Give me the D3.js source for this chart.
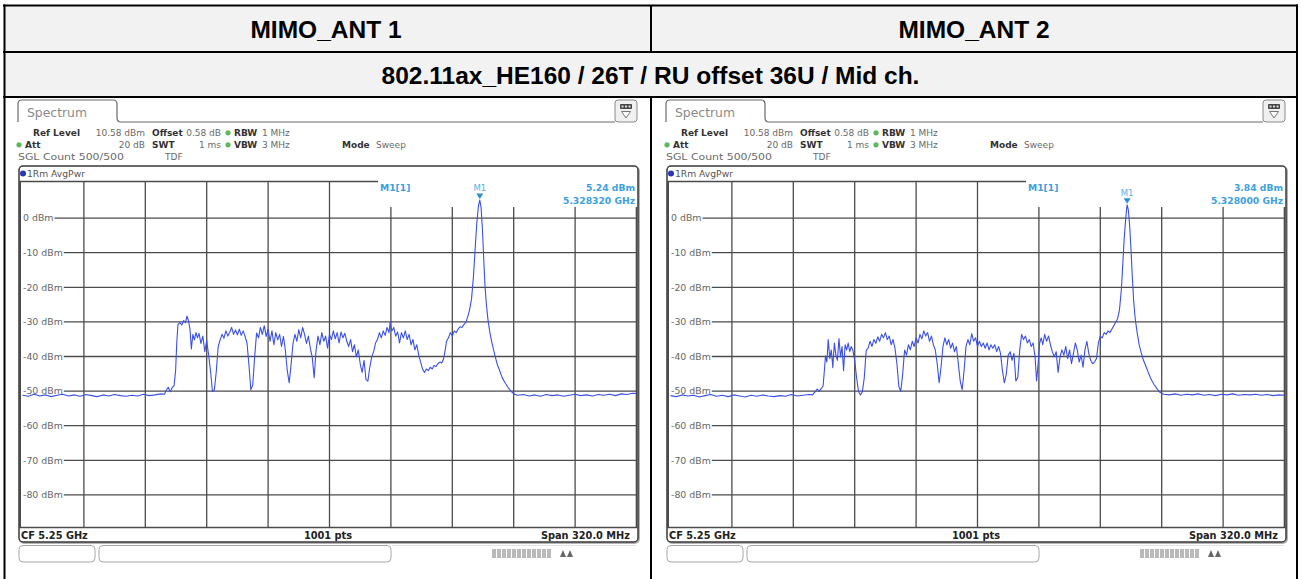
<!DOCTYPE html>
<html><head><meta charset="utf-8">
<script src="https://cdn.jsdelivr.net/npm/d3@7"></script>
<style>body{margin:0;background:#fff}svg{display:block}</style>
</head><body><svg id="c" width="1301" height="579"></svg>
<script>
// ---------------- data ----------------
const columnTitles = ["MIMO_ANT 1", "MIMO_ANT 2"];
const rowTitle = "802.11ax_HE160 / 26T / RU offset 36U / Mid ch.";
const yTickValues = [0, -10, -20, -30, -40, -50, -60, -70, -80];
const refLevel = 10.58;          // dBm, top of grid
const levelRange = 100;          // dB over 10 divisions
const startMHz = 5090, stopMHz = 5410;   // CF 5.25 GHz, span 320 MHz
const headerRow1 = [["Ref Level", "10.58 dBm"], ["Offset", "0.58 dB"], ["RBW", "1 MHz"]];
const headerRow2 = [["Att", "20 dB"], ["SWT", "1 ms"], ["VBW", "3 MHz"], ["Mode", "Sweep"]];
const headerRow3 = ["SGL Count 500/500", "TDF"];
const footerTexts = ["CF 5.25 GHz", "1001 pts", "Span 320.0 MHz"];
const markerFreqMHz = [5328.32, 5328.0];
const markerLevel = [5.24, 3.84];
const markerFreqLabel = ["5.328320 GHz", "5.328000 GHz"];
const markerLevelLabel = ["5.24 dBm", "3.84 dBm"];

// trace 1 (MIMO_ANT 1): [MHz, dBm]
const ant1Trace = [[5090,-51.2],[5093,-51.5],[5096,-50.9],[5099,-51.4],[5102,-51.1],[5105,-51.6],[5108,-51.2],[5111,-50.9],[5114,-51.4],[5117,-51.1],[5120,-51.5],[5123,-51.0],[5126,-51.3],[5129,-51.6],[5132,-51.1],[5135,-51.4],[5138,-51.0],[5141,-51.3],[5144,-51.5],[5147,-51.2],[5150,-51.4],[5153,-50.9],[5156,-51.3],[5159,-51.1],[5162,-50.8],[5164,-50.9],[5165,-49.6],[5166,-48.9],[5167,-50.2],[5168,-49.0],[5169,-48.4],[5169.8,-44],[5170.4,-36],[5171,-30.8],[5172,-30.2],[5173,-30.9],[5174,-29.6],[5175,-30.2],[5175.7,-28.3],[5176.5,-29.6],[5177.3,-32.2],[5178,-37.8],[5178.8,-33.6],[5179.6,-35.2],[5180.4,-33.1],[5181.2,-34.6],[5182,-33.3],[5183,-36.2],[5184,-34.1],[5185,-38.6],[5186,-35.4],[5187,-39.6],[5188,-44.2],[5189,-50.1],[5190,-49.6],[5191,-44.3],[5192,-37.1],[5193,-35.2],[5194,-33.6],[5195,-34.7],[5196,-32.6],[5197,-34.1],[5198,-33.0],[5199,-31.6],[5200,-33.6],[5201,-32.3],[5202,-33.7],[5203,-32.1],[5204,-33.9],[5205,-32.6],[5206,-34.2],[5207,-36.1],[5208,-42.3],[5209,-49.6],[5210,-48.2],[5211,-40.1],[5212,-33.2],[5213,-34.6],[5214,-31.6],[5215,-33.6],[5216,-31.1],[5217,-34.2],[5218,-32.1],[5219,-35.6],[5220,-32.6],[5221,-36.6],[5222,-33.1],[5223,-35.2],[5224,-33.6],[5225,-37.1],[5226,-34.2],[5227,-38.2],[5228,-44.1],[5229,-47.6],[5230,-42.2],[5231,-36.1],[5232,-33.6],[5233,-35.6],[5234,-32.2],[5235,-34.6],[5236,-31.6],[5237,-33.6],[5238,-36.2],[5239,-34.1],[5240,-37.6],[5241,-40.2],[5242,-46.1],[5243,-38.2],[5244,-34.1],[5245,-36.6],[5246,-33.1],[5247,-35.6],[5248,-34.1],[5249,-37.6],[5250,-33.6],[5251,-35.1],[5252,-32.6],[5253,-34.9],[5254,-33.1],[5255,-36.1],[5256,-32.9],[5257,-34.6],[5258,-33.3],[5259,-35.6],[5260,-37.1],[5261,-35.1],[5262,-38.6],[5263,-36.6],[5264,-40.1],[5265,-38.1],[5266,-42.1],[5267,-44.6],[5268,-41.1],[5269,-46.6],[5270,-47.1],[5271,-43.1],[5272,-40.1],[5273,-38.6],[5274,-36.1],[5275,-35.1],[5276,-33.1],[5277,-34.6],[5278,-32.6],[5279,-33.9],[5280,-31.6],[5281,-33.1],[5281.6,-30.1],[5282.5,-32.6],[5283.5,-31.6],[5284.5,-34.1],[5285.5,-32.9],[5286.5,-36.1],[5287.5,-33.1],[5288.5,-34.6],[5289.5,-32.6],[5290.5,-35.1],[5291.5,-33.6],[5292.5,-36.6],[5293.5,-35.1],[5294.5,-38.1],[5295.5,-36.6],[5296.5,-39.6],[5297.5,-41.6],[5298.5,-43.6],[5299.5,-44.6],[5300.5,-43.6],[5301.5,-44.1],[5302.5,-43.1],[5303.5,-43.6],[5304.5,-42.6],[5305.5,-42.9],[5306.5,-42.1],[5307.5,-41.6],[5308.5,-41.9],[5309.5,-40.6],[5310.3,-38.1],[5311,-35.6],[5312,-34.6],[5313,-33.1],[5314,-34.1],[5315,-32.6],[5316,-33.1],[5317,-32.1],[5318,-31.4],[5319,-31.6],[5320,-30.8],[5321,-30.2],[5322,-28.6],[5323,-26.5],[5324,-23.5],[5325,-17.0],[5326,-8.1],[5326.8,-1.2],[5327.6,3.4],[5328.32,5.24],[5329,3.1],[5329.7,-3.2],[5330.4,-12.1],[5331.1,-20.2],[5331.8,-25.1],[5332.6,-29.4],[5333.5,-32.8],[5334.5,-35.6],[5335.5,-38.1],[5336.5,-40.3],[5337.5,-42.4],[5338.7,-44.1],[5340,-46.1],[5341.5,-47.6],[5343,-48.9],[5344.5,-50.0],[5346,-50.8],[5348,-51.2],[5351,-51.0],[5354,-51.4],[5357,-51.1],[5360,-51.5],[5363,-51.0],[5366,-51.3],[5369,-51.1],[5372,-51.5],[5375,-51.2],[5378,-50.9],[5381,-51.3],[5384,-51.1],[5387,-51.4],[5390,-51.0],[5393,-51.2],[5396,-50.9],[5399,-51.3],[5402,-50.8],[5405,-51.0],[5408,-50.6],[5410,-50.7]];

// trace 2 (MIMO_ANT 2): [MHz, dBm]
const ant2Trace = [[5090,-51.3],[5093,-51.6],[5096,-51.1],[5099,-51.4],[5102,-51.2],[5105,-51.7],[5108,-51.3],[5111,-51.0],[5114,-51.5],[5117,-51.2],[5120,-51.6],[5123,-51.1],[5126,-51.4],[5129,-51.7],[5132,-51.2],[5135,-51.5],[5138,-51.1],[5141,-51.4],[5144,-51.6],[5147,-51.3],[5150,-51.5],[5153,-51.0],[5156,-51.4],[5159,-51.2],[5162,-51.0],[5164,-51.1],[5165.3,-50.2],[5166.5,-49.4],[5167.5,-50.1],[5168.5,-49.3],[5169.5,-48.6],[5170.2,-44],[5170.8,-39.8],[5171.5,-41.6],[5172.2,-35.1],[5173,-40.6],[5173.8,-38.1],[5174.6,-43.2],[5175.4,-36.1],[5176.2,-39.6],[5177,-41.1],[5177.8,-34.8],[5178.6,-40.1],[5179.4,-37.1],[5180.2,-44.1],[5181,-36.6],[5181.8,-38.1],[5182.6,-36.1],[5183.4,-38.6],[5184.2,-37.1],[5185,-38.1],[5186,-41.1],[5187,-46.2],[5188,-50.1],[5189,-51.1],[5190,-50.2],[5191,-46.1],[5192,-38.2],[5193,-37.6],[5194,-35.6],[5195,-37.1],[5196,-35.1],[5197,-36.2],[5198,-34.3],[5199,-35.6],[5200,-33.6],[5201,-34.6],[5202,-33.1],[5203,-35.1],[5204,-34.1],[5205,-36.6],[5206,-35.1],[5207,-37.6],[5208,-42.1],[5209,-48.6],[5210,-50.1],[5211,-45.1],[5212,-38.1],[5213,-39.6],[5214,-36.6],[5215,-38.1],[5216,-35.6],[5217,-37.1],[5218,-34.6],[5219,-36.1],[5220,-33.6],[5221,-34.9],[5222,-32.6],[5223,-34.1],[5224,-33.1],[5225,-35.6],[5226,-34.1],[5227,-36.6],[5228,-38.1],[5229,-42.1],[5230,-47.6],[5231,-43.1],[5232,-37.1],[5233,-34.6],[5234,-36.6],[5235,-35.1],[5236,-37.6],[5237,-36.1],[5238,-38.6],[5239,-37.1],[5240,-42.1],[5241,-47.1],[5242,-49.6],[5243,-44.1],[5244,-37.1],[5245,-35.1],[5246,-36.6],[5247,-33.4],[5248,-35.6],[5249,-34.6],[5250,-37.1],[5251,-35.6],[5252,-37.1],[5253,-36.1],[5254,-37.6],[5255,-36.1],[5256,-38.1],[5257,-36.6],[5258,-37.6],[5259,-36.6],[5260,-38.6],[5261,-37.1],[5262,-39.1],[5263,-44.1],[5264,-47.6],[5265,-45.1],[5266,-39.6],[5267,-38.6],[5268,-41.1],[5269,-39.1],[5270,-47.1],[5271,-46.1],[5272,-38.1],[5273,-33.6],[5274,-35.1],[5275,-34.1],[5276,-36.1],[5277,-35.1],[5278,-37.1],[5279,-36.1],[5280,-40.1],[5280.8,-47.1],[5281.6,-42.1],[5282.4,-36.1],[5283.2,-34.6],[5284,-36.6],[5285,-33.6],[5286,-35.6],[5287,-34.1],[5288,-36.6],[5289,-38.6],[5290,-40.1],[5291,-38.6],[5292,-44.6],[5293,-40.1],[5294,-38.1],[5295,-39.6],[5296,-37.1],[5297,-40.6],[5298,-38.1],[5299,-42.1],[5300,-39.1],[5301,-36.1],[5302,-38.1],[5303,-41.6],[5304,-39.6],[5305,-43.1],[5306,-38.1],[5307,-35.6],[5308,-39.1],[5309,-41.1],[5310,-42.1],[5311,-41.6],[5312,-40.6],[5313,-36.1],[5314,-34.1],[5315,-34.6],[5316,-33.1],[5317,-33.6],[5318,-32.6],[5319,-33.1],[5320,-32.1],[5321,-31.1],[5322,-30.1],[5323,-29.1],[5324,-26.5],[5325,-20.5],[5325.8,-12.5],[5326.5,-5.5],[5327.2,-0.5],[5327.7,2.6],[5328,3.84],[5328.6,2.4],[5329.3,-2.2],[5330,-9.1],[5330.7,-17.1],[5331.4,-24.1],[5332.2,-29.1],[5333.2,-33.1],[5334.2,-36.4],[5335.3,-38.9],[5336.5,-41.1],[5337.6,-42.6],[5339,-44.6],[5340.5,-46.6],[5342,-48.1],[5343.5,-49.3],[5345,-50.3],[5347,-50.9],[5350,-51.1],[5353,-50.8],[5356,-51.2],[5359,-50.9],[5362,-51.1],[5365,-50.8],[5368,-51.2],[5371,-51.0],[5374,-51.3],[5377,-50.9],[5380,-51.1],[5383,-50.8],[5386,-51.2],[5389,-51.0],[5392,-51.1],[5395,-50.9],[5398,-51.2],[5401,-51.0],[5404,-51.3],[5407,-51.1],[5410,-51.2]];

const traces = [ant1Trace, ant2Trace];

// ---------------- drawing ----------------
const svg = d3.select("#c");
const RS = "'DejaVu Sans', Verdana, sans-serif";
const HF = "'Liberation Sans', Arial, sans-serif";

// table
svg.append("rect").attr("x", 4).attr("y", 5).attr("width", 1293).attr("height", 92).attr("fill", "#f2f2f2");
const tl = svg.append("g").attr("stroke", "#000").attr("stroke-width", 2);
tl.append("line").attr("x1", 3).attr("x2", 1298).attr("y1", 5.5).attr("y2", 5.5);
tl.append("line").attr("x1", 3).attr("x2", 1298).attr("y1", 52).attr("y2", 52);
tl.append("line").attr("x1", 3).attr("x2", 1298).attr("y1", 97).attr("y2", 97);
tl.append("line").attr("x1", 4.5).attr("x2", 4.5).attr("y1", 4.5).attr("y2", 579);
tl.append("line").attr("x1", 1297).attr("x2", 1297).attr("y1", 4.5).attr("y2", 579);
tl.append("line").attr("x1", 651).attr("x2", 651).attr("y1", 5).attr("y2", 52);
tl.append("line").attr("x1", 651).attr("x2", 651).attr("y1", 97).attr("y2", 579);

svg.selectAll("text.coltitle").data(columnTitles).join("text")
  .attr("class", "coltitle")
  .attr("x", (d, i) => i === 0 ? 326 : 974)
  .attr("y", 37.5).attr("text-anchor", "middle")
  .attr("font-family", HF).attr("font-weight", "bold").attr("font-size", 24.5).attr("fill", "#000")
  .text(d => d);
svg.append("text").attr("x", 650.5).attr("y", 83.5).attr("text-anchor", "middle")
  .attr("font-family", HF).attr("font-weight", "bold").attr("font-size", 24.5).attr("fill", "#000")
  .text(rowTitle);

function drawPanel(idx, ox) {
  const g = svg.append("g").attr("transform", `translate(${ox},0)`);
  const gridL = 22.5, gridR = 636.5, gridT = 181.5, gridB = 527.5;
  const x = d3.scaleLinear().domain([startMHz, stopMHz]).range([gridL, gridR]);
  const y = d3.scaleLinear().domain([refLevel - levelRange, refLevel]).range([gridB, gridT]);

  // tab
  g.append("path")
    .attr("d", "M18,122 L18,104 Q18,100 22,100 L113,100 Q117,100 117,104 L117,118 Q117,122 121,122 L615,122")
    .attr("fill", "none").attr("stroke", "#6a6a6a").attr("stroke-width", 1.2);
  g.append("text").attr("x", 27).attr("y", 117).attr("font-family", RS).attr("font-size", 12)
    .attr("textLength", 60).attr("lengthAdjust", "spacingAndGlyphs")
    .attr("fill", "#8a8a8a").text("Spectrum");
  // icon
  g.append("rect").attr("x", 615).attr("y", 100).attr("width", 22).attr("height", 22).attr("rx", 3)
    .attr("fill", "#f0f0f0").attr("stroke", "#8a8a8a").attr("stroke-width", 1);
  g.append("rect").attr("x", 620).attr("y", 104).attr("width", 12).attr("height", 5).attr("rx", 1).attr("fill", "#444");
  g.selectAll("rect.key").data([0, 1, 2]).join("rect").attr("class", "key")
    .attr("x", d => 621.5 + d * 3.5).attr("y", 105.5).attr("width", 2).attr("height", 2).attr("fill", "#ddd");
  g.append("path").attr("d", "M621.5,111.5 L630.5,111.5 L626,118 Z").attr("fill", "#fff").attr("stroke", "#666").attr("stroke-width", 0.9);

  // header info
  const hb = (tx, ty, s, bold, anchor) => g.append("text").attr("x", tx).attr("y", ty)
    .attr("font-family", RS).attr("font-size", 9).attr("font-weight", bold ? "bold" : "normal")
    .attr("fill", bold ? "#333" : "#6a6a6a").attr("text-anchor", anchor || "start").text(s);
  const dot = (cx, cy) => g.append("circle").attr("cx", cx).attr("cy", cy).attr("r", 2.6).attr("fill", "#5cb85c");
  const r1 = 136, r2 = 148, r3 = 160;
  hb(33, r1, headerRow1[0][0], true); hb(145, r1, headerRow1[0][1], false, "end");
  hb(152, r1, headerRow1[1][0], true); hb(221, r1, headerRow1[1][1], false, "end");
  dot(228, r1 - 3.2); hb(234, r1, headerRow1[2][0], true); hb(262, r1, headerRow1[2][1], false);
  dot(19, r2 - 3.2); hb(25, r2, headerRow2[0][0], true); hb(145, r2, headerRow2[0][1], false, "end");
  hb(152, r2, headerRow2[1][0], true); hb(221, r2, headerRow2[1][1], false, "end");
  dot(228, r2 - 3.2); hb(234, r2, headerRow2[2][0], true); hb(262, r2, headerRow2[2][1], false);
  hb(342, r2, headerRow2[3][0], true); hb(376, r2, headerRow2[3][1], false);
  hb(18, r3, headerRow3[0], false).attr("textLength", 106).attr("lengthAdjust", "spacingAndGlyphs");
  hb(165, r3, headerRow3[1], false);

  // diagram frame
  g.append("rect").attr("x", 20).attr("y", 167).attr("width", 619).attr("height", 376).attr("rx", 4)
    .attr("fill", "none").attr("stroke", "#b5b5b5").attr("stroke-width", 2);
  g.append("rect").attr("x", 19).attr("y", 166).attr("width", 619).attr("height", 376).attr("rx", 4)
    .attr("fill", "#fff").attr("stroke", "#3a3a3a").attr("stroke-width", 1.5);
  g.append("circle").attr("cx", 23).attr("cy", 173.5).attr("r", 3).attr("fill", "#2a35b8");
  g.append("text").attr("x", 27).attr("y", 177).attr("font-family", RS).attr("font-size", 9.2)
    .attr("fill", "#555").text("1Rm AvgPwr");

  const gridColor = "#4b4b4b";
  const gg = g.append("g").attr("stroke", gridColor).attr("stroke-width", 1.3);
  const boxL = 378, boxB = 207;
  // vertical grid lines
  const vTicks = d3.range(1, 10).map(i => startMHz + i * (stopMHz - startMHz) / 10);
  gg.selectAll("line.v").data(vTicks).join("line").attr("class", "v")
    .attr("x1", d => x(d)).attr("x2", d => x(d))
    .attr("y1", d => x(d) > boxL ? boxB : gridT).attr("y2", gridB);
  // left / right edges
  gg.append("line").attr("x1", 20).attr("x2", 20).attr("y1", gridT).attr("y2", gridB).attr("stroke-width", 2);
  gg.append("line").attr("x1", gridR).attr("x2", gridR).attr("y1", boxB).attr("y2", gridB).attr("stroke-width", 1.6);
  // top line
  gg.append("line").attr("x1", 19).attr("x2", boxL).attr("y1", gridT).attr("y2", gridT);
  // bottom line
  gg.append("line").attr("x1", 19).attr("x2", 638).attr("y1", gridB).attr("y2", gridB).attr("stroke-width", 1.4);
  // horizontal grid lines with labels
  const lab = g.append("g");
  yTickValues.forEach(v => {
    const t = lab.append("text").attr("x", 23).attr("y", y(v) + 3.3)
      .attr("font-family", RS).attr("font-size", 9.4).attr("fill", "#666").text(`${v} dBm`);
    const w = t.node().getComputedTextLength();
    gg.append("line").attr("x1", 23 + w + 1).attr("x2", gridR).attr("y1", y(v)).attr("y2", y(v));
  });

  // trace
  const clipId = "clip" + idx;
  g.append("clipPath").attr("id", clipId).append("rect")
    .attr("x", gridL - 2).attr("y", gridT - 2).attr("width", gridR - gridL + 2).attr("height", gridB - gridT + 2);
  const line = d3.line().x(d => x(d[0])).y(d => y(d[1]));
  g.append("path").datum(traces[idx]).attr("clip-path", `url(#${clipId})`)
    .attr("d", line).attr("fill", "none").attr("stroke", "#3b50e6").attr("stroke-width", 1.1)
    .attr("stroke-linejoin", "round");

  // marker
  const mx = x(markerFreqMHz[idx]), my = y(markerLevel[idx]);
  const mcol = "#3da0e0";
  g.append("path").attr("d", `M${mx - 3.5},${my - 6.5} L${mx + 3.5},${my - 6.5} L${mx},${my - 1} Z`).attr("fill", "#2a8fd6");
  g.append("text").attr("x", mx).attr("y", my - 9).attr("text-anchor", "middle")
    .attr("font-family", RS).attr("font-size", 8.5).attr("fill", "#5aaee6").text("M1");
  const mt = (tx, ty, s, anchor) => g.append("text").attr("x", tx).attr("y", ty).attr("text-anchor", anchor)
    .attr("font-family", RS).attr("font-size", 9.2).attr("font-weight", "bold").attr("fill", mcol).text(s);
  mt(380, 190.5, "M1[1]", "start");
  mt(635, 190.5, markerLevelLabel[idx], "end");
  mt(635, 203.5, markerFreqLabel[idx], "end");

  // footer
  const ft = (tx, s, anchor) => g.append("text").attr("x", tx).attr("y", 538.5).attr("text-anchor", anchor)
    .attr("font-family", RS).attr("font-size", 9.8).attr("font-weight", "bold").attr("fill", "#222").text(s);
  ft(21, footerTexts[0], "start");
  ft(328, footerTexts[1], "middle");
  ft(630, footerTexts[2], "end");

  // soft keys below
  g.append("rect").attr("x", 19).attr("y", 545.5).attr("width", 76).attr("height", 16.5).attr("rx", 4)
    .attr("fill", "#fff").attr("stroke", "#a8a8a8");
  g.append("rect").attr("x", 99).attr("y", 545.5).attr("width", 292).attr("height", 16.5).attr("rx", 4)
    .attr("fill", "#fff").attr("stroke", "#a8a8a8");
  g.append("line").attr("x1", 392).attr("x2", 636).attr("y1", 545.5).attr("y2", 545.5)
    .attr("stroke", "#e2e2e2").attr("stroke-width", 1);
  g.selectAll("rect.bar").data(d3.range(12)).join("rect").attr("class", "bar")
    .attr("x", d => 492 + d * 5).attr("y", 549).attr("width", 4).attr("height", 9).attr("fill", "#b9b9b9");
  g.append("path").attr("d", "M560,557 L563,550 L566,557 Z M567,557 L570,550 L573,557 Z").attr("fill", "#666");
}

drawPanel(0, 0);
drawPanel(1, 648);
</script>
</body></html>
